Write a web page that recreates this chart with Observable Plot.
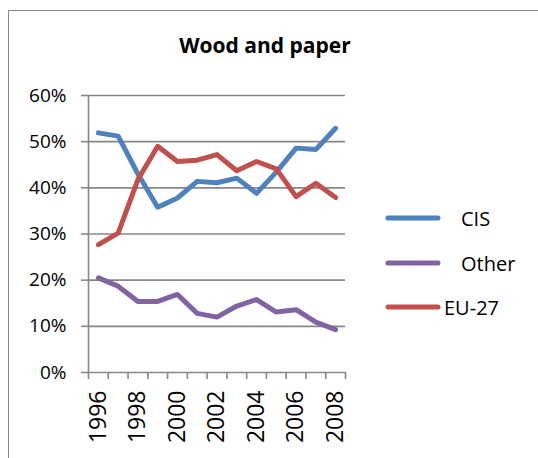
<!DOCTYPE html>
<html><head><meta charset="utf-8">
<script src="https://cdn.jsdelivr.net/npm/d3@7"></script>
<script src="https://cdn.jsdelivr.net/npm/@observablehq/plot@0.6"></script>
<style>
body{margin:0;background:#fff;font-family:"Open Sans",sans-serif;}
#wrap{position:relative;width:538px;height:458px;overflow:hidden;background:#fff;}
#frame{position:absolute;left:8px;top:10px;width:560px;height:480px;border-top:1.5px solid #888;border-left:1.5px solid #888;box-sizing:border-box;}
#title{position:absolute;left:0;width:530px;top:31px;text-align:center;font-weight:bold;font-size:21px;color:#000;}
#chart{position:absolute;left:0;top:0;}
.leg{position:absolute;left:385px;display:flex;align-items:center;font-size:20px;color:#000;}
.leg svg{display:block;}
</style></head>
<body>
<div id="wrap">
  <div id="frame"></div>
  <div id="chart"></div>
  <div id="title">Wood and paper</div>
  <div id="legend"></div>
</div>
<script>
const years = [1996,1997,1998,1999,2000,2001,2002,2003,2004,2005,2006,2007,2008];
const cis   = [0.519,0.512,0.430,0.358,0.378,0.414,0.411,0.421,0.388,0.434,0.486,0.483,0.529];
const other = [0.205,0.187,0.154,0.154,0.169,0.128,0.120,0.144,0.158,0.131,0.136,0.109,0.093];
const eu27  = [0.277,0.302,0.418,0.490,0.457,0.460,0.472,0.437,0.457,0.441,0.381,0.410,0.379];
const seriesNames = ["CIS","Other","EU-27"];
const seriesColors = ["#4F81BD","#8064A2","#C0504D"];
const yTicks = [0,0.1,0.2,0.3,0.4,0.5,0.6];
const xLabelYears = [1996,1998,2000,2002,2004,2006,2008];

const seriesValues = [cis, other, eu27];
const rows = seriesNames.flatMap((name, i) => years.map((yr, j) => ({series: name, year: yr, value: seriesValues[i][j]})));
const boundaries = [...years.map(y => y - 0.5), years[years.length - 1] + 0.5];
const grid = "#878787";

const chart = Plot.plot({
  width: 538,
  height: 458,
  marginLeft: 88,
  marginRight: 193,
  marginTop: 95,
  marginBottom: 86,
  style: {fontFamily: "'Open Sans', sans-serif", background: "transparent", color: "#000"},
  x: {domain: [boundaries[0], boundaries[boundaries.length - 1]], axis: null},
  y: {domain: [0, 0.6], axis: null},
  color: {domain: seriesNames, range: seriesColors},
  marks: [
    Plot.ruleY(yTicks, {stroke: grid, strokeWidth: 1.6}),
    Plot.ruleX([boundaries[0]], {y1: 0, y2: 0.6, stroke: grid, strokeWidth: 1.6}),
    Plot.axisY(yTicks, {tickSize: 7, tickPadding: 15, stroke: grid, strokeWidth: 1.6, fill: "#000", fontSize: 19, tickFormat: d3.format(".0%"), label: null}),
    Plot.axisX(boundaries, {tickSize: 7, stroke: grid, strokeWidth: 1.6, tickFormat: () => "", label: null}),
    Plot.axisX(xLabelYears, {tickSize: 0, tickPadding: 18, tickRotate: -90, fontSize: 23, fill: "#000", tickFormat: d => String(d), label: null}),
    Plot.line(rows, {x: "year", y: "value", z: "series", stroke: "series", strokeWidth: 5, strokeLinecap: "round", strokeLinejoin: "round"})
  ]
});
document.getElementById("chart").appendChild(chart);

const legendTops = [218, 263, 307];
const legendGaps = [20, 20, 3];
const legend = document.getElementById("legend");
seriesNames.forEach((name, i) => {
  const d = document.createElement("div");
  d.className = "leg";
  d.style.top = (legendTops[i] - 15) + "px";
  d.style.height = "30px";
  d.innerHTML = `<svg width="56" height="10"><line x1="3" y1="5" x2="53" y2="5" stroke="${seriesColors[i]}" stroke-width="5" stroke-linecap="round"/></svg><span style="margin-left:${legendGaps[i]}px">${name}</span>`;
  legend.appendChild(d);
});
</script>
</body></html>
